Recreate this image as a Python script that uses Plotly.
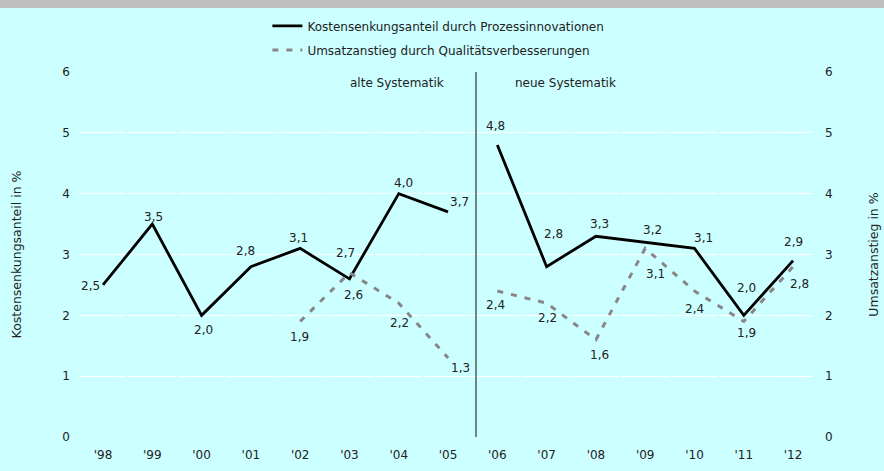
import plotly.graph_objects as go

years = ["'98", "'99", "'00", "'01", "'02", "'03", "'04", "'05", "'06", "'07", "'08", "'09", "'10", "'11", "'12"]

kosten_alt_x = ["'98", "'99", "'00", "'01", "'02", "'03", "'04", "'05"]
kosten_alt_y = [2.5, 3.5, 2.0, 2.8, 3.1, 2.6, 4.0, 3.7]
kosten_neu_x = ["'06", "'07", "'08", "'09", "'10", "'11", "'12"]
kosten_neu_y = [4.8, 2.8, 3.3, 3.2, 3.1, 2.0, 2.9]

umsatz_alt_x = ["'02", "'03", "'04", "'05"]
umsatz_alt_y = [1.9, 2.7, 2.2, 1.3]
umsatz_neu_x = ["'06", "'07", "'08", "'09", "'10", "'11", "'12"]
umsatz_neu_y = [2.4, 2.2, 1.6, 3.1, 2.4, 1.9, 2.8]

# label offsets (pixels, screen right / screen down) relative to each point
kosten_alt_off = [(-13, 1), (1, -7), (2, 15), (-5, -16), (-2, -10), (4, 16), (5, -11), (11, -10)]
kosten_neu_off = [(-2, -19), (7, -33), (4, -12), (7, -12), (9, -10), (3, -27), (0, -19)]
umsatz_alt_off = [(-1, 16), (-4, -20), (1, 20), (12, 10)]
umsatz_neu_off = [(-2, 14), (1, 15), (4, 15), (10, 26), (0, 18), (3, 12), (6, 17)]

def fmt(v):
    return f"{v:.1f}".replace(".", ",")

BLACK = "#000000"
GREY = "#8a8688"
TXT = "#222222"
FONT = "DejaVu Sans"
LABEL_FONT = dict(family=FONT, size=12, color=TXT)

fig = go.Figure()

def add_series(x, y, offs, color, dash, width, name, group, legend, yaxis):
    fig.add_trace(go.Scatter(
        x=x, y=y, mode="lines", yaxis=yaxis,
        line=dict(color=color, width=width, dash=dash), name=name,
        legendgroup=group, showlegend=legend, hoverinfo="skip"))
    for xi, yi, (dx, dy) in zip(x, y, offs):
        fig.add_annotation(x=xi, y=yi, xref="x", yref=yaxis, text=fmt(yi), showarrow=False,
                           xanchor="center", yanchor="middle", xshift=dx, yshift=-dy,
                           font=LABEL_FONT)

add_series(kosten_alt_x, kosten_alt_y, kosten_alt_off, BLACK, "solid", 2.8,
           "Kostensenkungsanteil durch Prozessinnovationen", "k", True, "y")
add_series(kosten_neu_x, kosten_neu_y, kosten_neu_off, BLACK, "solid", 2.8,
           "Kostensenkungsanteil durch Prozessinnovationen", "k", False, "y")
add_series(umsatz_alt_x, umsatz_alt_y, umsatz_alt_off, GREY, "6px,8px", 3,
           "Umsatzanstieg durch Qualitätsverbesserungen", "u", True, "y2")
add_series(umsatz_neu_x, umsatz_neu_y, umsatz_neu_off, GREY, "6px,8px", 3,
           "Umsatzanstieg durch Qualitätsverbesserungen", "u", False, "y2")

# separator between old and new classification
fig.add_shape(type="line", xref="x", yref="y", x0=7.567, x1=7.567, y0=0, y1=6,
              line=dict(color="#333333", width=1.2))
# grey band on top
fig.add_shape(type="rect", xref="paper", yref="paper", x0=-0.2, x1=1.2,
              y0=(471 - 8 - 34) / 365, y1=(471 - 34) / 365 + 0.1,
              fillcolor="#c0c0c0", line=dict(width=0), layer="below")

fig.add_annotation(x=6.96, y=6, xref="x", yref="y", text="alte Systematik", showarrow=False,
                   xanchor="right", yanchor="middle", yshift=-11,
                   font=dict(family=FONT, size=12, color=TXT))
fig.add_annotation(x=8.32, y=6, xref="x", yref="y", text="neue Systematik", showarrow=False,
                   xanchor="left", yanchor="middle", yshift=-11,
                   font=dict(family=FONT, size=12, color=TXT))

axis_font = dict(family=FONT, size=12, color=TXT)
fig.update_layout(
    width=884, height=471,
    margin=dict(l=79, r=72, t=72, b=34, autoexpand=False),
    paper_bgcolor="#ccffff", plot_bgcolor="#ccffff",
    xaxis=dict(type="category", categoryorder="array", categoryarray=years,
               range=[-0.487, 14.384], showgrid=False, zeroline=False, showline=False,
               ticks="", tickfont=axis_font, automargin=False, ticklabelstandoff=9),
    yaxis=dict(range=[0, 6], dtick=1, showgrid=True, gridcolor="#ffffff", gridwidth=1.3,
               griddash="47.3px,2px", zeroline=False, showline=False, ticks="",
               tickfont=axis_font, ticklabelstandoff=8, automargin=False,
               title=dict(text="Kostensenkungsanteil in %", standoff=37,
                          font=dict(family=FONT, size=12.5, color=TXT))),
    yaxis2=dict(range=[0, 6], dtick=1, overlaying="y", side="right", showgrid=False,
                zeroline=False, showline=False, ticks="", tickfont=axis_font,
                ticklabelstandoff=12, automargin=False,
                title=dict(text="Umsatzanstieg in %", standoff=37,
                           font=dict(family=FONT, size=12.5, color=TXT))),
    legend=dict(x=0.257, y=1.166, xanchor="left", yanchor="top", orientation="v",
                bgcolor="rgba(0,0,0,0)", font=dict(family=FONT, size=12, color=TXT),
                tracegroupgap=5, itemwidth=30),
    showlegend=True,
)

fig.write_html("out.html", config={"displayModeBar": False},
               post_script="document.body.style.margin='0';")
